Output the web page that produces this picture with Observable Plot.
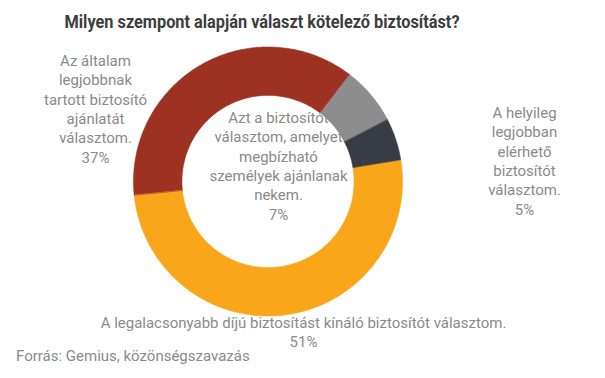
<!DOCTYPE html>
<html>
<head>
<meta charset="utf-8">
<script src="https://cdn.jsdelivr.net/npm/d3@7"></script>
<script src="https://cdn.jsdelivr.net/npm/@observablehq/plot@0.6"></script>
<style>
  html, body { margin: 0; padding: 0; background: #fff; }
  #wrap { width: 605px; height: 378px; position: relative; overflow: hidden; font-family: Roboto, "Noto Sans", sans-serif; }
  #title { width: 523px; height: 38px; position: relative; }
  #title span { position: absolute; left: 261.5px; top: 22px; white-space: nowrap; line-height: 24px; font-weight: 700; font-size: 18.5px; color: #3d3d3d; transform-origin: 0 0; }
  #caption { position: absolute; left: 16px; top: 347px; line-height: 18px; font-size: 15px; color: #8a8a8a; }
  svg { display: block; }
</style>
</head>
<body>
<div id="wrap">
  <div id="title"><span>Milyen szempont alapján választ kötelező biztosítást?</span></div>
  <div id="chart"></div>
  <div id="caption">Forrás: Gemius, közönségszavazás</div>
</div>
<script>
// ---- data ----
const categories = [
  "A legalacsonyabb díjú biztosítást kínáló biztosítót választom.",
  "Az általam legjobbnak tartott biztosító ajánlatát választom.",
  "Azt a biztosítót választom, amelyet megbízható személyek ajánlanak nekem.",
  "A helyileg legjobban elérhető biztosítót választom."
];
const values = [51, 37, 7, 5];
const labelTexts = [
  "A legalacsonyabb díjú biztosítást kínáló biztosítót választom.",
  "Az általam\nlegjobbnak\ntartott biztosító\najánlatát\nválasztom.",
  "Azt a biztosítót\nválasztom, amelyet\nmegbízható\nszemélyek ajánlanak\nnekem.",
  "A helyileg\nlegjobban\nelérhető\nbiztosítót\nválasztom."
];
const colors = ["#F9A61B", "#9D3122", "#8D8D8D", "#383C45"];

// ---- title: condensed look ----
(function () {
  const s = document.querySelector("#title span");
  const w = s.getBoundingClientRect().width;
  const h = s.getBoundingClientRect().height;
  const k = 395 / w;
  s.style.transform = `translate(${-w * k / 2}px, ${-h / 2}px) scaleX(${k})`;
})();

// ---- layout ----
const W = 605, H = 312;
const cx = 267.5, cy = 143, R = 134.5, innerFrac = 0.64;
const startDeg = 80.7;
// label block centres in pixels (svg coords)
const labelPos = [[303, 293], [95, 69.5], [278, 126.5], [524, 121.5]];

const pie = d3.pie().sort(null)
  .startAngle(startDeg * Math.PI / 180)
  .endAngle(startDeg * Math.PI / 180 + 2 * Math.PI);
const arcs = pie(values);

const ringPts = [];
arcs.forEach((a, i) => {
  const n = Math.max(4, Math.ceil((a.endAngle - a.startAngle) / (Math.PI / 180)));
  for (let k = 0; k <= n; k++) {
    const t = a.startAngle + (a.endAngle - a.startAngle) * k / n;
    ringPts.push({key: categories[i], x: Math.sin(t), y: Math.cos(t)});
  }
  for (let k = n; k >= 0; k--) {
    const t = a.startAngle + (a.endAngle - a.startAngle) * k / n;
    ringPts.push({key: categories[i], x: innerFrac * Math.sin(t), y: innerFrac * Math.cos(t)});
  }
});

const labels = categories.map((c, i) => ({
  key: c,
  text: labelTexts[i] + "\n" + values[i] + "%",
  x: (labelPos[i][0] - cx) / R,
  y: (cy - labelPos[i][1]) / R
}));

const chart = Plot.plot({
  width: W,
  height: H,
  margin: 0,
  x: {domain: [-1, 1], range: [cx - R, cx + R], axis: null},
  y: {domain: [-1, 1], range: [cy + R, cy - R], axis: null},
  color: {domain: categories, range: colors},
  style: {fontFamily: "Roboto, 'Noto Sans', sans-serif", background: "#fff", overflow: "visible"},
  marks: [
    Plot.line(ringPts, {x: "x", y: "y", z: "key", fill: "key", stroke: "key", strokeWidth: 0.6, curve: "linear-closed"}),
    Plot.text(labels, {x: "x", y: "y", text: "text", fill: "#8a8a8a", fontSize: 15, lineHeight: 1.29, textAnchor: "middle", lineAnchor: "middle"})
  ]
});
document.getElementById("chart").appendChild(chart);
</script>
</body>
</html>
